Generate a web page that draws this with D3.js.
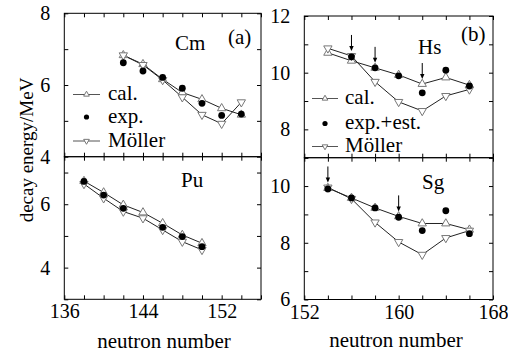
<!DOCTYPE html>
<html>
<head>
<meta charset="utf-8">
<script src="https://cdn.jsdelivr.net/npm/d3@7"></script>
</head>
<body style="margin:0;background:#fff">
<svg id="chart" width="508" height="352" style="display:block"></svg>
<script>
// ---- data ----
const nCm = [142, 144, 146, 148, 150, 152, 154];
const cmCal = [6.83, 6.58, 6.16, 5.79, 5.60, 5.35, 5.17];
const cmExp = [6.62, 6.39, 6.21, 5.91, 5.49, 5.15, 5.19];
const cmMoller = [6.83, 6.56, 6.14, 5.66, 5.17, 4.92, 5.52];

const nPu = [138, 140, 142, 144, 146, 148, 150];
const puCal = [6.73, 6.37, 5.98, 5.74, 5.40, 5.03, 4.77];
const nPuExp = [138, 140, 142, 146, 148, 150];
const puExp = [6.72, 6.29, 5.87, 5.27, 4.98, 4.66];
const puMoller = [6.64, 6.19, 5.77, 5.56, 5.19, 4.82, 4.56];

const nHs = [154, 156, 158, 160, 162, 164, 166];
const hsCal = [10.70, 10.42, 10.17, 9.92, 9.60, 9.83, 9.56];
const nHsExp = [156, 158, 160, 162, 164, 166];
const hsExp = [10.56, 10.17, 9.89, 9.29, 10.09, 9.53];
const hsMoller = [10.86, 10.59, 9.68, 8.97, 8.65, 9.18, 9.41];
const hsArrows = [156, 158, 162];

const nSg = [154, 156, 158, 160, 162, 164, 166];
const sgCal = [9.93, 9.58, 9.23, 8.93, 8.68, 8.68, 8.46];
const sgExp = [9.90, 9.58, 9.23, 8.90, 8.43, 9.13, 8.32];
const sgMoller = [9.95, 9.55, 8.72, 8.03, 7.58, 8.17, 8.43];
const sgArrows = [154, 160];

const xTicksLeft = [136, 144, 152];
const xTicksRight = [152, 160, 168];
const yTicksCm = [8, 6, 4];
const yTicksPu = [6, 4];
const yTicksHs = [12, 10, 8];
const yTicksSg = [10, 8, 6];

const legendLeft = ['cal.', 'exp.', 'Möller'];
const legendRight = ['cal.', 'exp.+est.', 'Möller'];

// ---- drawing ----
const svg = d3.select('#chart');
const SERIF = 'Liberation Serif';
const LINE = '#222';
const MARK = '#777';
const FONT = 20;

const triUp = d3.symbol().type(d3.symbolTriangle).size(30);
const triSmall = d3.symbol().type(d3.symbolTriangle).size(14);
const zip = (xs, ys) => xs.map((n, i) => ({ n, v: ys[i] }));

function panel(cfg) {
  const x = d3.scaleLinear().domain(cfg.xDomain).range([cfg.left, cfg.right]);
  const y = d3.scaleLinear().domain(cfg.yDomain).range([cfg.bottom, cfg.top]);
  const g = svg.append('g');

  const xAll = d3.range(cfg.xDomain[0], cfg.xDomain[1] + 0.01, 2);
  const yAll = d3.range(Math.ceil(cfg.yDomain[0]), Math.floor(cfg.yDomain[1]) + 0.01, 1);

  const styleAxis = (sel) => {
    sel.attr('font-family', SERIF).attr('font-size', FONT);
    sel.select('.domain').remove();
    sel.selectAll('line').attr('stroke', '#000');
    sel.selectAll('text').attr('fill', '#000');
  };

  // inward ticks on all four sides
  g.append('g').attr('transform', `translate(0,${cfg.bottom})`)
    .call(d3.axisBottom(x).tickValues(xAll).tickSize(-4).tickSizeOuter(0).tickPadding(5)
      .tickFormat(v => (cfg.xLabels || []).includes(v) ? v : ''))
    .call(styleAxis);
  g.append('g').attr('transform', `translate(0,${cfg.top})`)
    .call(d3.axisTop(x).tickValues(xAll).tickSize(-4).tickSizeOuter(0).tickFormat(''))
    .call(styleAxis);
  g.append('g').attr('transform', `translate(${cfg.left},0)`)
    .call(d3.axisLeft(y).tickValues(yAll).tickSize(-4).tickSizeOuter(0).tickPadding(14)
      .tickFormat(v => cfg.yLabels.includes(v) ? v : ''))
    .call(styleAxis);
  g.append('g').attr('transform', `translate(${cfg.right},0)`)
    .call(d3.axisRight(y).tickValues(yAll).tickSize(-4).tickSizeOuter(0).tickFormat(''))
    .call(styleAxis);

  g.append('rect')
    .attr('x', cfg.left).attr('y', cfg.top)
    .attr('width', cfg.right - cfg.left).attr('height', cfg.bottom - cfg.top)
    .attr('fill', 'none').attr('stroke', '#000').attr('stroke-width', 1);

  const line = d3.line().x(d => x(d.n)).y(d => y(d.v));
  const cal = zip(cfg.n, cfg.cal);
  const mol = zip(cfg.n, cfg.moller);
  const exp = zip(cfg.nExp, cfg.exp);

  g.append('path').datum(cal).attr('d', line)
    .attr('fill', 'none').attr('stroke', LINE).attr('stroke-width', 1);
  g.append('path').datum(mol).attr('d', line)
    .attr('fill', 'none').attr('stroke', LINE).attr('stroke-width', 1);

  g.selectAll('.up').data(cal).join('path')
    .attr('transform', d => `translate(${x(d.n)},${y(d.v)})`)
    .attr('d', triUp).attr('fill', '#fff').attr('stroke', MARK).attr('stroke-width', 1);
  g.selectAll('.down').data(mol).join('path')
    .attr('transform', d => `translate(${x(d.n)},${y(d.v)}) rotate(180)`)
    .attr('d', triUp).attr('fill', '#fff').attr('stroke', MARK).attr('stroke-width', 1);
  g.selectAll('.dot').data(exp).join('circle')
    .attr('cx', d => x(d.n)).attr('cy', d => y(d.v)).attr('r', 3.4).attr('fill', '#000');

  // arrows pointing down at estimated values
  (cfg.arrows || []).forEach(n => {
    const i = cfg.n.indexOf(n);
    const vMax = d3.max([cfg.cal[i], cfg.moller[i], cfg.exp[cfg.nExp.indexOf(n)] ?? -Infinity]);
    const tip = y(vMax) - 5;
    const ax = x(n);
    g.append('line').attr('x1', ax).attr('x2', ax).attr('y1', tip - 16).attr('y2', tip - 4)
      .attr('stroke', '#000').attr('stroke-width', 1);
    g.append('path').attr('d', `M${ax - 2.2},${tip - 5}L${ax + 2.2},${tip - 5}L${ax},${tip}Z`)
      .attr('fill', '#000');
  });

  // element name / panel tag
  cfg.texts.forEach(t => {
    g.append('text').attr('x', t.x).attr('y', t.y).text(t.s)
      .attr('font-size', t.size || 21).attr('fill', '#000');
  });

  if (cfg.legend) {
    const L = cfg.legend;
    L.labels.forEach((s, i) => {
      const yy = L.y[i];
      const sy = yy - 5.5;
      if (i !== 1) {
        g.append('line').attr('x1', L.x0).attr('x2', L.x1).attr('y1', sy).attr('y2', sy)
          .attr('stroke', '#555').attr('stroke-width', 1);
        g.append('path').attr('d', triSmall)
          .attr('transform', `translate(${(L.x0 + L.x1) / 2},${sy})` + (i === 2 ? ' rotate(180)' : ''))
          .attr('fill', '#fff').attr('stroke', MARK).attr('stroke-width', 1);
      } else {
        g.append('circle').attr('cx', (L.x0 + L.x1) / 2).attr('cy', sy).attr('r', 2.6).attr('fill', '#000');
      }
      g.append('text').attr('x', L.tx).attr('y', yy).text(s)
        .attr('font-size', 21).attr('fill', '#000');
    });
  }
}

// (a) Cm
panel({
  xDomain: [136, 156], yDomain: [4, 8],
  left: 64.3, right: 261, top: 13.3, bottom: 156.7,
  n: nCm, cal: cmCal, nExp: nCm, exp: cmExp, moller: cmMoller,
  yLabels: yTicksCm,
  texts: [{ s: 'Cm', x: 175, y: 50 }, { s: '(a)', x: 228, y: 44 }],
  legend: { labels: legendLeft, x0: 73, x1: 100, tx: 108, y: [100, 122.5, 146.5] }
});

// Pu
panel({
  xDomain: [136, 156], yDomain: [3, 7.5],
  left: 64.3, right: 261, top: 156.7, bottom: 299.3,
  n: nPu, cal: puCal, nExp: nPuExp, exp: puExp, moller: puMoller,
  xLabels: xTicksLeft, yLabels: yTicksPu,
  texts: [{ s: 'Pu', x: 181, y: 187 }]
});

// (b) Hs
panel({
  xDomain: [152, 168], yDomain: [7, 12],
  left: 304.3, right: 493, top: 16, bottom: 157.7,
  n: nHs, cal: hsCal, nExp: nHsExp, exp: hsExp, moller: hsMoller,
  yLabels: yTicksHs, arrows: hsArrows,
  texts: [{ s: 'Hs', x: 418, y: 54 }, { s: '(b)', x: 461, y: 41 }],
  legend: { labels: legendRight, x0: 312, x1: 338, tx: 345, y: [104, 129, 152] }
});

// Sg
panel({
  xDomain: [152, 168], yDomain: [6, 11],
  left: 304.3, right: 493, top: 157.7, bottom: 299.5,
  n: nSg, cal: sgCal, nExp: nSg, exp: sgExp, moller: sgMoller,
  xLabels: xTicksRight, yLabels: yTicksSg, arrows: sgArrows,
  texts: [{ s: 'Sg', x: 422, y: 189 }]
});

// axis titles
svg.append('text')
  .attr('transform', 'translate(33,150) rotate(-90)')
  .attr('text-anchor', 'middle')
  .attr('font-size', 19)
  .text('decay energy/MeV');

svg.append('text').attr('x', 164).attr('y', 348).attr('text-anchor', 'middle')
  .attr('font-size', 21).text('neutron number');
svg.append('text').attr('x', 396).attr('y', 347).attr('text-anchor', 'middle')
  .attr('font-size', 21).text('neutron number');

// serif everywhere, as in the original figure
svg.selectAll('text').style('font-family', "'Liberation Serif', 'Times New Roman', serif");
</script>
</body>
</html>
